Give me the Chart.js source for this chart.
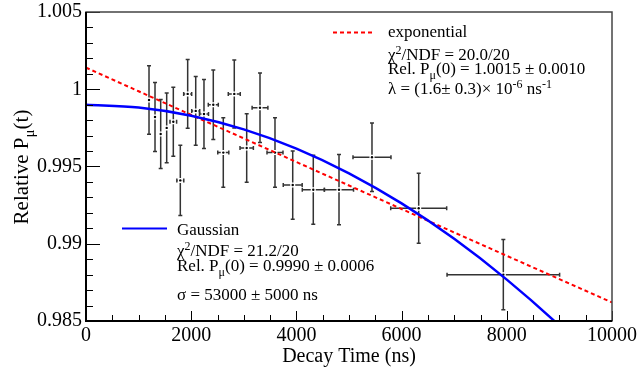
<!DOCTYPE html>
<html>
<head>
<meta charset="utf-8">
<title>Relative polarization vs decay time</title>
<script src="https://cdn.jsdelivr.net/npm/chart.js@4/dist/chart.umd.min.js"></script>
<style>
  html, body { margin: 0; padding: 0; background: #fff; }
  #wrap { width: 641px; height: 368px; }
</style>
</head>
<body>
<div id="wrap"><canvas id="polChart" width="641" height="368"></canvas></div>
<script>
const times = [1198, 1312, 1420, 1534, 1660, 1793, 1933, 2086, 2243, 2420, 2610, 2819, 3055, 3308, 3593, 3930, 4321, 4810, 5437, 6325, 7934];
const timeErr = [25, 25, 28, 30, 63, 66, 76, 76, 86, 95, 105, 114, 127, 150, 152, 180, 209, 276, 361, 532, 1070];
const polarization = [0.9993, 0.9982, 0.9971, 0.9975, 0.9979, 0.9941, 0.9997, 0.9986, 0.9984, 0.9990, 0.9959, 0.9997, 0.9962, 0.9988, 0.9959, 0.9938, 0.9935, 0.9935, 0.9956, 0.9923, 0.9880];
const polErr = [0.00222, 0.00223, 0.00223, 0.00225, 0.00223, 0.00227, 0.00223, 0.00223, 0.00223, 0.00225, 0.00225, 0.00220, 0.00222, 0.00225, 0.00225, 0.00221, 0.00223, 0.00227, 0.00222, 0.00227, 0.00227];

// Fit curves, read at every 1000 ns
const fitTimes = [0, 1000, 2000, 3000, 4000, 5000, 6000, 7000, 8000, 9000, 10000];
const expFit = [1.0014, 0.99987, 0.99834, 0.99682, 0.99529, 0.99377, 0.99225, 0.99073, 0.98922, 0.98771, 0.98620];
const gausFit = [0.99900, 0.99882, 0.99829, 0.99740, 0.99616, 0.99456, 0.99261, 0.99032, 0.98768, 0.98470, 0.98137];

// Axis ticks
const xTicks = [0, 2000, 4000, 6000, 8000, 10000];
const xTickLabels = ['0', '2000', '4000', '6000', '8000', '10000'];
const yTicks = [0.985, 0.99, 0.995, 1, 1.005];
const yTickLabels = ['0.985', '0.99', '0.995', '1', '1.005'];

const SERIF = '"Liberation Serif", "DejaVu Serif", serif';

// text with sup/sub pieces: [text, 'sup'|'sub'|undefined]
function drawRich(ctx, x, y, parts, size) {
    let cx = x;
    parts.forEach(([txt, kind]) => {
        const s = kind ? Math.round(size * 0.7) : size;
        const dy = kind === 'sup' ? -size * 0.38 : kind === 'sub' ? size * 0.28 : 0;
        ctx.font = s + 'px ' + SERIF;
        ctx.fillText(txt, cx, y + dy);
        cx += ctx.measureText(txt).width;
    });
    return cx - x;
}

function richWidth(ctx, parts, size) {
    let w = 0;
    parts.forEach(([txt, kind]) => {
        const s = kind ? Math.round(size * 0.7) : size;
        ctx.font = s + 'px ' + SERIF;
        w += ctx.measureText(txt).width;
    });
    return w;
}

// error bars under the curves
const errorBars = {
    id: 'errorBars',
    beforeDatasetsDraw(chart) {
        const { ctx, scales: { x, y }, chartArea: a } = chart;
        ctx.save();
        ctx.beginPath();
        ctx.rect(a.left, a.top, a.right - a.left, a.bottom - a.top);
        ctx.clip();
        ctx.strokeStyle = '#333';
        ctx.lineWidth = 1.5;
        times.forEach((t, i) => {
            const px = x.getPixelForValue(t);
            const py = y.getPixelForValue(polarization[i]);
            const top = y.getPixelForValue(polarization[i] + polErr[i]);
            const bot = y.getPixelForValue(polarization[i] - polErr[i]);
            const l = x.getPixelForValue(t - timeErr[i]);
            const r = x.getPixelForValue(t + timeErr[i]);
            const gap = 2.5;
            ctx.beginPath();
            ctx.moveTo(px, top); ctx.lineTo(px, py - gap);
            ctx.moveTo(px, py + gap); ctx.lineTo(px, bot);
            ctx.moveTo(px - 2, top); ctx.lineTo(px + 2, top);
            ctx.moveTo(px - 2, bot); ctx.lineTo(px + 2, bot);
            if (r - l > 2 * gap + 1) {
                ctx.moveTo(l, py); ctx.lineTo(px - gap, py);
                ctx.moveTo(px + gap, py); ctx.lineTo(r, py);
                ctx.moveTo(l, py - 2); ctx.lineTo(l, py + 2);
                ctx.moveTo(r, py - 2); ctx.lineTo(r, py + 2);
            }
            ctx.stroke();
        });
        ctx.restore();
    }
};

// frame, inner ticks, titles and the two fit boxes
const decorations = {
    id: 'decorations',
    afterDraw(chart) {
        const { ctx, scales: { x, y }, chartArea: a } = chart;
        ctx.save();
        // ticks pointing inward
        ctx.strokeStyle = '#000';
        ctx.lineWidth = 1;
        ctx.beginPath();
        for (let t = 0; t <= 10000; t += 500) {
            const px = Math.round(x.getPixelForValue(t)) + 0.5;
            const len = t % 2000 === 0 ? 10 : 6;
            ctx.moveTo(px, a.bottom); ctx.lineTo(px, a.bottom - len);
        }
        for (let k = 0; k <= 20; k++) {
            const v = 0.985 + k * 0.001;
            const py = Math.round(y.getPixelForValue(v)) + 0.5;
            const len = k % 5 === 0 ? 14 : 7;
            ctx.moveTo(a.left, py); ctx.lineTo(a.left + len, py);
        }
        ctx.stroke();

        // frame
        ctx.strokeStyle = '#444';
        ctx.lineWidth = 1.5;
        ctx.strokeRect(a.left, a.top, a.right - a.left, a.bottom - a.top);
        ctx.strokeStyle = '#000';
        ctx.lineWidth = 2;
        ctx.beginPath();
        ctx.moveTo(a.left, a.top); ctx.lineTo(a.left, a.bottom); ctx.lineTo(a.right, a.bottom);
        ctx.stroke();

        ctx.fillStyle = '#000';
        ctx.textBaseline = 'alphabetic';

        // x title
        ctx.font = '20px ' + SERIF;
        ctx.textAlign = 'center';
        ctx.fillText('Decay Time (ns)', (a.left + a.right) / 2, 362);

        // y title
        ctx.textAlign = 'left';
        const yTitle = [['Relative P'], ['\u03bc', 'sub'], ['(t)']];
        ctx.save();
        ctx.translate(28, 167);
        ctx.rotate(-Math.PI / 2);
        drawRich(ctx, -richWidth(ctx, yTitle, 21) / 2, 0, yTitle, 21);
        ctx.restore();

        // exponential box
        ctx.strokeStyle = '#ff0000';
        ctx.lineWidth = 2;
        ctx.setLineDash([4, 3]);
        ctx.beginPath();
        ctx.moveTo(333, 32.5); ctx.lineTo(375, 32.5);
        ctx.stroke();
        ctx.setLineDash([]);
        const fs = 17;
        drawRich(ctx, 388, 37, [['exponential']], fs);
        drawRich(ctx, 388, 60, [['\u03c7'], ['2', 'sup'], ['/NDF = 20.0/20']], fs);
        drawRich(ctx, 388, 74, [['Rel. P'], ['\u03bc', 'sub'], ['(0) = 1.0015 \u00b1 0.0010']], fs);
        drawRich(ctx, 388, 94, [['\u03bb = (1.6\u00b1 0.3)\u00d7 10'], ['-6', 'sup'], [' ns'], ['-1', 'sup']], fs);

        // gaussian box
        ctx.strokeStyle = '#0000ff';
        ctx.lineWidth = 2;
        ctx.beginPath();
        ctx.moveTo(122, 228.5); ctx.lineTo(167, 228.5);
        ctx.stroke();
        drawRich(ctx, 177, 235, [['Gaussian']], fs);
        drawRich(ctx, 177, 256, [['\u03c7'], ['2', 'sup'], ['/NDF = 21.2/20']], fs);
        drawRich(ctx, 177, 271, [['Rel. P'], ['\u03bc', 'sub'], ['(0) = 0.9990 \u00b1 0.0006']], fs);
        drawRich(ctx, 177, 300, [['\u03c3 = 53000 \u00b1 5000 ns']], fs);
        ctx.restore();
    }
};

const ctx = document.getElementById('polChart').getContext('2d');
new Chart(ctx, {
    type: 'scatter',
    data: {
        datasets: [
            {
                label: 'exponential',
                type: 'line',
                data: fitTimes.map((t, i) => ({ x: t, y: expFit[i] })),
                borderColor: '#ff0000',
                borderWidth: 2,
                borderDash: [4, 3],
                pointRadius: 0,
                tension: 0,
                clip: 0,
                order: 1
            },
            {
                label: 'Gaussian',
                type: 'line',
                data: fitTimes.map((t, i) => ({ x: t, y: gausFit[i] })),
                borderColor: '#0000ff',
                borderWidth: 2.5,
                pointRadius: 0,
                cubicInterpolationMode: 'monotone',
                clip: 0,
                order: 0
            },
            {
                label: 'data',
                data: times.map((t, i) => ({ x: t, y: polarization[i] })),
                pointRadius: 1.2,
                pointBackgroundColor: '#000',
                pointBorderWidth: 0,
                order: 2
            }
        ]
    },
    options: {
        responsive: false,
        animation: false,
        events: [],
        layout: { padding: { left: 0, top: 12, right: 29, bottom: 0 } },
        plugins: {
            legend: { display: false },
            tooltip: { enabled: false }
        },
        scales: {
            x: {
                type: 'linear',
                min: 0,
                max: 10000,
                afterBuildTicks: (s) => { s.ticks = xTicks.map(v => ({ value: v })); },
                afterFit: (s) => { s.height = 47; s.paddingLeft = 0; s.paddingRight = 0; },
                grid: { display: false, drawTicks: false },
                border: { display: false },
                ticks: {
                    padding: 3,
                    color: '#000',
                    maxRotation: 0,
                    font: { family: SERIF, size: 20 },
                    callback: (v) => xTickLabels[xTicks.indexOf(v)]
                }
            },
            y: {
                type: 'linear',
                min: 0.985,
                max: 1.005,
                afterBuildTicks: (s) => { s.ticks = yTicks.map(v => ({ value: v })); },
                afterFit: (s) => { s.width = 86; s.paddingTop = 0; s.paddingBottom = 0; },
                grid: { display: false, drawTicks: false },
                border: { display: false },
                ticks: {
                    padding: 4,
                    color: '#000',
                    font: { family: SERIF, size: 20 },
                    callback: (v) => {
                        const i = yTicks.findIndex(t => Math.abs(t - v) < 1e-9);
                        return i >= 0 ? yTickLabels[i] : '';
                    }
                }
            }
        }
    },
    plugins: [errorBars, decorations]
});
</script>
</body>
</html>
